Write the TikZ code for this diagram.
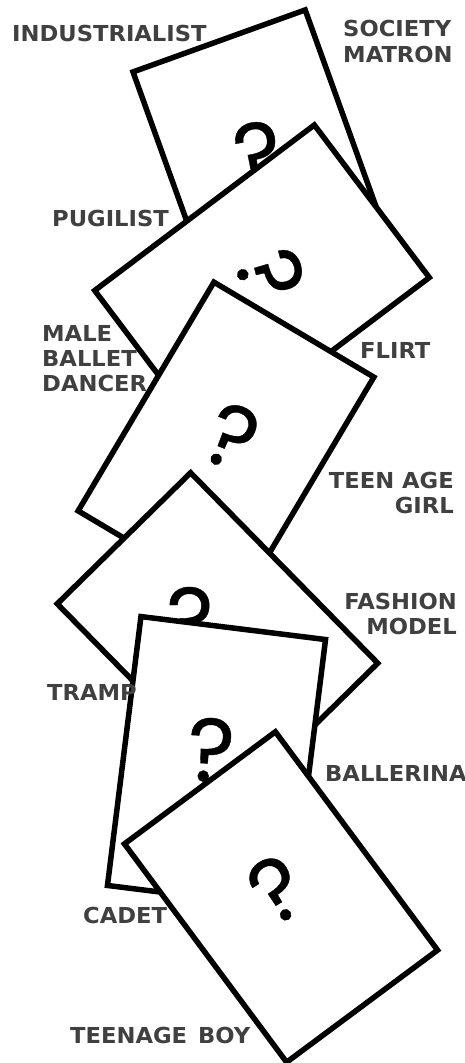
\documentclass[tikz,border=0pt]{standalone}
\usepackage{fontspec}
\newfontfamily\labfont{DejaVu Sans}[FakeStretch=1.03]
\newfontfamily\qfont{Poppins}[FakeBold=0.4]
\definecolor{labgray}{HTML}{404040}
\begin{document}
\begin{tikzpicture}[x=1pt,y=-1pt,
 card/.style={draw=black, fill=white, line width=5.5pt, rectangle, inner sep=0pt},
 qm/.style={font=\qfont\fontsize{90}{90}\selectfont, inner sep=0pt},
 lab/.style={font=\labfont\bfseries\fontsize{22}{26}\selectfont, text=labgray, inner sep=0pt},
]
\useasboundingbox[fill=white] (0,0) rectangle (465,1063);
% card 1
\node[card, rotate=19.8, minimum width=183pt, minimum height=268pt] (c1) at (264.5,167) {};
\node[qm, rotate=10] (q1) at (258,154) {?};
% card 2
\node[card, rotate=-53, minimum width=191pt, minimum height=275pt] (c2) at (262,284) {};
\node[qm, rotate=-75] (q2) at (270,274) {?};
% card 3
\node[card, rotate=-30.7, minimum width=186pt, minimum height=266pt] (c3) at (226,444) {};
\node[qm, rotate=-22] (q3) at (232,437) {?};
% card 4
\node[card, rotate=-45.5, minimum width=267pt, minimum height=187pt] (c4) at (217.5,633.5) {};
\node[qm, rotate=0] (q4) at (190,619) {?};
% card 5
\node[card, rotate=-7.1, minimum width=186pt, minimum height=271pt] (c5) at (216.5,762.5) {};
\node[qm, rotate=-3] (q5) at (211,750) {?};
% card 6
\node[card, rotate=36.6, minimum width=188pt, minimum height=272pt] (c6) at (281,897) {};
\node[qm, rotate=32] (q6) at (277,889) {?};
% labels
\node[lab, anchor=north west] (l1) at (12,25) {INDUSTRIALIST};
\node[lab, anchor=north west, align=left] (l2) at (343,20) {SOCIETY\\MATRON};
\node[lab, anchor=north west] (l3) at (52,210) {PUGILIST};
\node[lab, anchor=north west, align=left] (l4) at (42,325) {MALE\\[-1pt]BALLET\\[-1pt]DANCER};
\node[lab, anchor=north west] (l5) at (360,342) {FLIRT};
\node[lab, anchor=north east, align=right] (l6) at (454,472) {TEEN AGE\\[-1pt]GIRL};
\node[lab, anchor=north east, align=right] (l7) at (457,593) {FASHION\\[-1pt]MODEL};
\node[lab, anchor=north west] (l8) at (47,684) {TRAMP};
\node[lab, anchor=north west] (l9) at (325,765) {BALLERINA};
\node[lab, anchor=north west] (l10) at (83,907) {CADET};
\node[lab, anchor=north west] (l11) at (70,1027) {TEENAGE\enspace BOY};
\end{tikzpicture}
\end{document}
